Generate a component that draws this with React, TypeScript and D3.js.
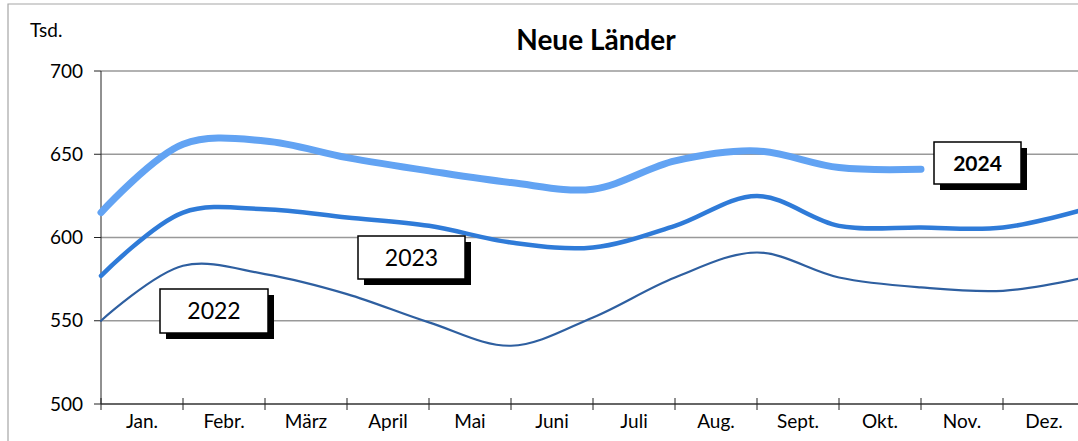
import React from 'react';
import * as d3 from 'd3';

// points sit on the tick marks: first one is December of the previous year
const points = ['Vj.Dez', 'Jan', 'Feb', 'Mar', 'Apr', 'Mai', 'Jun', 'Jul', 'Aug', 'Sep', 'Okt', 'Nov', 'Dez'];
const months = ['Jan.', 'Febr.', 'März', 'April', 'Mai', 'Juni', 'Juli', 'Aug.', 'Sept.', 'Okt.', 'Nov.', 'Dez.'];
const yTicks = [500, 550, 600, 650, 700];

const v2022 = [550, 583, 578, 566, 549, 535, 552, 576, 591, 576, 570, 568, 576];
const v2023 = [577, 615, 617, 612, 607, 597, 594, 607, 625, 607, 606, 606, 617];
const v2024 = [615, 656, 658, 648, 640, 633, 629, 646, 652, 642, 641];

const series = [
  { name: '2022', values: v2022, color: '#2e5fa0', width: 2.2 },
  { name: '2023', values: v2023, color: '#2f7bd8', width: 4.5 },
  { name: '2024', values: v2024, color: '#62a3f3', width: 7 },
];

const labels = [
  { text: '2022', x: 160, y: 289, w: 108, h: 44, bold: false, size: 23 },
  { text: '2023', x: 358, y: 236, w: 107, h: 43, bold: false, size: 23 },
  { text: '2024', x: 934, y: 142, w: 87, h: 42, bold: true, size: 21 },
];

const W = 1078;
const H = 441;
const left = 101;
const step = 82;
const font = 'Lato, "Open Sans", sans-serif';

export default function App() {
  const x = d3.scaleLinear().domain([0, 12]).range([left, left + 12 * step]);
  const y = d3.scaleLinear().domain([500, 700]).range([404, 71]);

  const line = d3
    .line<number>()
    .x((_, i) => x(i))
    .y((d) => y(d))
    .curve(d3.curveCatmullRom.alpha(0.5));

  const right = x(12);

  return (
    <svg width={W} height={H} style={{ position: 'absolute', left: 0, top: 0, background: '#fff' }}>
      {/* chart frame */}
      <path d={`M${W + 2},4 H8 V${H + 2}`} fill="none" stroke="#a6a6a6" strokeWidth={1.2} />

      <text x={30} y={37} fontFamily={font} fontSize={19}>Tsd.</text>
      <text x={596} y={50} textAnchor="middle" fontFamily={font} fontSize={28} fontWeight="bold">
        Neue Länder
      </text>

      {/* gridlines */}
      {yTicks.slice(1).map((t) => (
        <line key={t} x1={left} x2={right} y1={y(t)} y2={y(t)} stroke="#999" strokeWidth={1.5} />
      ))}

      {/* y axis */}
      <line x1={left} x2={left} y1={y(700)} y2={y(500)} stroke="#222" strokeWidth={1} />
      {yTicks.map((t) => (
        <g key={t}>
          <line x1={left - 7} x2={left} y1={y(t)} y2={y(t)} stroke="#222" />
          <text x={83} y={y(t)} dy="0.35em" textAnchor="end" fontFamily={font} fontSize={19}>
            {t}
          </text>
        </g>
      ))}

      {/* x axis */}
      <line x1={left} x2={right} y1={y(500)} y2={y(500)} stroke="#333" strokeWidth={1.5} />
      {points.map((p, i) => (
        <line key={p} x1={x(i)} x2={x(i)} y1={y(500) - 6} y2={y(500) + 6} stroke="#222" />
      ))}
      {months.map((m, i) => (
        <text key={m} x={(x(i) + x(i + 1)) / 2} y={428} textAnchor="middle" fontFamily={font} fontSize={19}>
          {m}
        </text>
      ))}

      {/* lines */}
      {series.map((s) => (
        <path
          key={s.name}
          d={line(s.values) || ''}
          fill="none"
          stroke={s.color}
          strokeWidth={s.width}
          strokeLinecap="round"
          strokeLinejoin="round"
        />
      ))}

      {/* year labels with shadow */}
      {labels.map((l) => (
        <g key={l.text}>
          <rect x={l.x + 6} y={l.y + 6} width={l.w} height={l.h} fill="#000" />
          <rect x={l.x} y={l.y} width={l.w} height={l.h} fill="#fff" stroke="#000" strokeWidth={1.5} />
          <text
            x={l.x + l.w / 2}
            y={l.y + l.h / 2}
            dy="0.36em"
            textAnchor="middle"
            fontFamily={font}
            fontSize={l.size}
            fontWeight={l.bold ? 'bold' : 'normal'}
          >
            {l.text}
          </text>
        </g>
      ))}
    </svg>
  );
}
